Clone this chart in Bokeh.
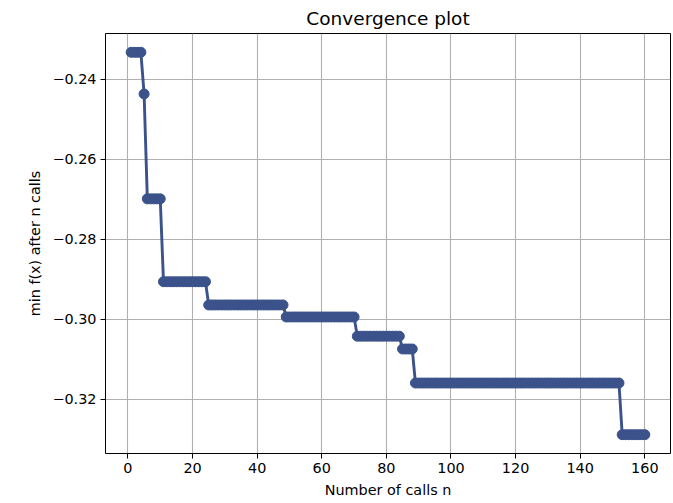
from bokeh.plotting import figure
from bokeh.models import FixedTicker, Range1d
from bokeh.embed import file_html
from bokeh.resources import INLINE

# Step levels: call number where each new minimum starts, and its value
step_start_calls = [1, 5, 6, 11, 25, 49, 71, 85, 89, 153]
step_values = [-0.2333, -0.2437, -0.2699, -0.2906, -0.2964, -0.2994, -0.3042, -0.3074, -0.3159, -0.3288]
n_calls = 160

x_ticks = [0, 20, 40, 60, 80, 100, 120, 140, 160]
y_ticks = [-0.32, -0.30, -0.28, -0.26, -0.24]
y_tick_labels = ["\u22120.32", "\u22120.30", "\u22120.28", "\u22120.26", "\u22120.24"]

calls = list(range(1, n_calls + 1))
mins = []
for c in calls:
    v = None
    for s, val in zip(step_start_calls, step_values):
        if c >= s:
            v = val
    mins.append(v)

color = "#3b528b"
FONT = "DejaVu Sans"

p = figure(width=673, height=503, output_backend="svg", toolbar_location=None,
           title="Convergence plot",
           x_range=Range1d(-6.95, 167.95), y_range=Range1d(-0.3335, -0.2286),
           min_border_left=105, min_border_right=3, min_border_top=32, min_border_bottom=50)

p.line(calls, mins, line_color=color, line_width=2.9)
p.scatter(calls, mins, size=10, fill_color=color, line_color=color)

p.title.align = "center"
p.title.text_font = FONT
p.title.text_font_size = "18.5px"
p.title.text_font_style = "normal"
p.title.text_color = "black"

p.outline_line_color = "black"
p.outline_line_width = 1
p.background_fill_color = "white"
p.border_fill_color = "white"

p.xaxis.ticker = FixedTicker(ticks=x_ticks)
p.yaxis.ticker = FixedTicker(ticks=y_ticks)
p.yaxis.major_label_overrides = {t: l for t, l in zip(y_ticks, y_tick_labels)}

p.xaxis.axis_label = "Number of calls n"
p.yaxis.axis_label = "min f(x) after n calls"

for ax in (p.xaxis, p.yaxis):
    ax.axis_line_color = None
    ax.minor_tick_line_color = None
    ax.major_tick_line_color = "black"
    ax.major_tick_out = 5
    ax.major_tick_in = 0
    ax.major_label_standoff = 4
    ax.major_label_text_font = FONT
    ax.major_label_text_font_size = "14.4px"
    ax.major_label_text_color = "black"
    ax.axis_label_standoff = 6
    ax.axis_label_text_font = FONT
    ax.axis_label_text_font_size = "14.4px"
    ax.axis_label_text_font_style = "normal"
    ax.axis_label_text_color = "black"

p.xgrid.grid_line_color = "#b0b0b0"
p.ygrid.grid_line_color = "#b0b0b0"
p.xgrid.grid_line_width = 1.1
p.ygrid.grid_line_width = 1.1

open("out.html", "w").write(file_html(p, INLINE))
